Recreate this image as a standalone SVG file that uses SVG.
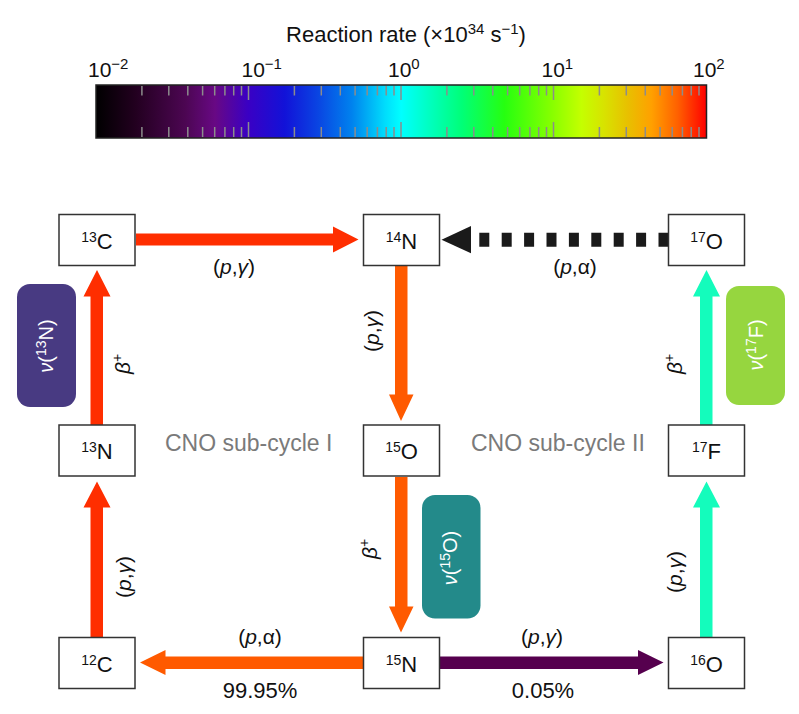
<svg xmlns="http://www.w3.org/2000/svg" width="799" height="714" viewBox="0 0 799 714">
<defs>
<linearGradient id="rate" x1="0" y1="0" x2="1" y2="0">
<stop offset="0" stop-color="#000000"/>
<stop offset="0.064" stop-color="#22001f"/>
<stop offset="0.146" stop-color="#4c0652"/>
<stop offset="0.195" stop-color="#680884"/>
<stop offset="0.249" stop-color="#3a00c4"/>
<stop offset="0.309" stop-color="#1212d8"/>
<stop offset="0.363" stop-color="#0a44e2"/>
<stop offset="0.419" stop-color="#0082ee"/>
<stop offset="0.473" stop-color="#00dcfc"/>
<stop offset="0.5" stop-color="#00ffff"/>
<stop offset="0.543" stop-color="#00ffc4"/>
<stop offset="0.599" stop-color="#00ff78"/>
<stop offset="0.669" stop-color="#26ff10"/>
<stop offset="0.746" stop-color="#86ff00"/>
<stop offset="0.795" stop-color="#c4ff00"/>
<stop offset="0.833" stop-color="#d8e200"/>
<stop offset="0.871" stop-color="#e8c000"/>
<stop offset="0.91" stop-color="#ffa000"/>
<stop offset="0.953" stop-color="#ff6000"/>
<stop offset="1" stop-color="#ff0000"/>
</linearGradient>
</defs>
<style>
text{font-family:"Liberation Sans",Arial,sans-serif;fill:#111}
.node rect{fill:#fff;stroke:#333;stroke-width:1.5}
.nl{font-size:22px;text-anchor:middle}
.lbl{font-size:21px;text-anchor:middle}
.pct{font-size:22px;text-anchor:middle}
.cyc{font-size:23px;fill:#7a7a7a}
.nu{font-size:20px;text-anchor:middle;fill:#fff}
.it{font-style:italic}
.tick{stroke:#8c8c8c;stroke-width:1.5;fill:none}
.red{fill:#ff2e00}
.orange{fill:#ff5a00}
.purple{fill:#56004e}
.aqua{fill:#14fcbc}
</style>
<rect width="799" height="714" fill="#fff"/>
<g id="colorbar">
<text x="406" y="42" style="font-size:22px" text-anchor="middle">Reaction rate (×10<tspan dy="-8" font-size="15">34</tspan><tspan dy="8"> s</tspan><tspan dy="-8" font-size="15">−1</tspan><tspan dy="8">)</tspan></text>
<text x="88" y="77" style="font-size:21px">10<tspan dy="-8" font-size="15">−2</tspan></text>
<text x="241.5" y="77" style="font-size:21px">10<tspan dy="-8" font-size="15">−1</tspan></text>
<text x="388" y="77" style="font-size:21px">10<tspan dy="-8" font-size="15">0</tspan></text>
<text x="541.5" y="77" style="font-size:21px">10<tspan dy="-8" font-size="15">1</tspan></text>
<text x="693" y="77" style="font-size:21px">10<tspan dy="-8" font-size="15">2</tspan></text>
<rect x="96" y="85" width="610.5" height="53" fill="url(#rate)"/>
<path class="tick" d="M141.9 86v9.5M168.8 86v9.5M187.8 86v9.5M202.6 86v9.5M214.7 86v9.5M224.9 86v9.5M233.7 86v9.5M241.5 86v9.5M294.4 86v9.5M321.3 86v9.5M340.3 86v9.5M355.1 86v9.5M367.2 86v9.5M377.4 86v9.5M386.2 86v9.5M394 86v9.5M446.9 86v9.5M473.8 86v9.5M492.8 86v9.5M507.6 86v9.5M519.7 86v9.5M529.9 86v9.5M538.7 86v9.5M546.5 86v9.5M599.4 86v9.5M626.3 86v9.5M645.3 86v9.5M660.1 86v9.5M672.2 86v9.5M682.4 86v9.5M691.2 86v9.5M699 86v9.5M248.5 86v14M401 86v14M553.5 86v14"/>
<path class="tick" d="M141.9 127v10M168.8 127v10M187.8 127v10M202.6 127v10M214.7 127v10M224.9 127v10M233.7 127v10M241.5 127v10M294.4 127v10M321.3 127v10M340.3 127v10M355.1 127v10M367.2 127v10M377.4 127v10M386.2 127v10M394 127v10M446.9 127v10M473.8 127v10M492.8 127v10M507.6 127v10M519.7 127v10M529.9 127v10M538.7 127v10M546.5 127v10M599.4 127v10M626.3 127v10M645.3 127v10M660.1 127v10M672.2 127v10M682.4 127v10M691.2 127v10M699 127v10M248.5 122v15M401 122v15M553.5 122v15"/>
<rect x="96" y="85" width="610.5" height="53" fill="none" stroke="#222" stroke-width="1.5"/>
</g>
<g id="connectors">
<path id="c13C-14N" class="red" d="M136 233.5H333V226.5L358.5 239.5L333 252.5V245.5H136Z"/>
<path id="c14N-15O" class="orange" d="M395 266V394.5H389L401 421L413.5 394.5H407.5V266Z"/>
<path id="c15O-15N" class="orange" d="M395 477V606.5H389L401 632.5L413.5 606.5H407.5V477Z"/>
<path id="c13N-13C" class="red" d="M90.5 425V296.5H83.5L97 270L110.5 296.5H103V425Z"/>
<path id="c12C-13N" class="red" d="M90.5 637.5V507.5H83.5L97 481.5L110.5 507.5H103V637.5Z"/>
<path id="c15N-12C" class="orange" d="M363.5 656.5H165.5V650L140 662.5L165.5 675V669H363.5Z"/>
<path id="c15N-16O" class="purple" d="M439 656.5H638V650L663.5 662.5L638 675V669H439Z"/>
<path id="c16O-17F" class="aqua" d="M700 637.5V507.5H693L706.5 481.5L720 507.5H712.5V637.5Z"/>
<path id="c17F-17O" class="aqua" d="M700 425V296.5H693L706.5 270L720 296.5H712.5V425Z"/>
<g id="c17O-14N">
<path d="M668.5 239.7H477" stroke="#1a1a1a" stroke-width="14" stroke-dasharray="10 12.4" fill="none"/>
<path d="M471 226L441.5 239.7L471 253.3Z" fill="#1a1a1a"/>
</g>
</g>
<g id="labels">
<text class="lbl" x="234" y="274">(<tspan class="it">p</tspan>,<tspan class="it">γ</tspan>)</text>
<text class="lbl" x="575" y="274">(<tspan class="it">p</tspan>,α)</text>
<text class="lbl" x="260" y="644">(<tspan class="it">p</tspan>,α)</text>
<text class="lbl" x="542" y="644">(<tspan class="it">p</tspan>,<tspan class="it">γ</tspan>)</text>
<text class="pct" x="260" y="698">99.95%</text>
<text class="pct" x="543" y="698">0.05%</text>
<text class="cyc" x="165" y="451">CNO sub-cycle I</text>
<text class="cyc" x="471" y="451">CNO sub-cycle II</text>
<text class="lbl" transform="translate(373 331) rotate(-90)" y="6">(<tspan class="it">p</tspan>,<tspan class="it">γ</tspan>)</text>
<text class="lbl" transform="translate(125 577) rotate(-90)" y="6">(<tspan class="it">p</tspan>,<tspan class="it">γ</tspan>)</text>
<text class="lbl" transform="translate(676 572) rotate(-90)" y="6">(<tspan class="it">p</tspan>,<tspan class="it">γ</tspan>)</text>
<text class="lbl" transform="translate(124 364) rotate(-90)" y="6"><tspan class="it">β</tspan><tspan dy="-8" font-size="14">+</tspan></text>
<text class="lbl" transform="translate(676 364) rotate(-90)" y="6"><tspan class="it">β</tspan><tspan dy="-8" font-size="14">+</tspan></text>
<text class="lbl" transform="translate(371 549) rotate(-90)" y="6"><tspan class="it">β</tspan><tspan dy="-8" font-size="14">+</tspan></text>
</g>
<g id="nu13N">
<rect x="17" y="284" width="59" height="123" rx="13" fill="#483a82"/>
<text class="nu" transform="translate(47 346) rotate(-90)" y="6"><tspan class="it">ν</tspan>(<tspan dy="-7" font-size="14">13</tspan><tspan dy="7">N)</tspan></text>
</g>
<g id="nu17F">
<rect x="726" y="286" width="59" height="119" rx="13" fill="#96d63f"/>
<text class="nu" transform="translate(757 345) rotate(-90)" y="6"><tspan class="it">ν</tspan>(<tspan dy="-7" font-size="14">17</tspan><tspan dy="7">F)</tspan></text>
</g>
<g id="nu15O">
<rect x="422" y="495" width="58.5" height="123.5" rx="13" fill="#238a8a"/>
<text class="nu" transform="translate(451 558) rotate(-90)" y="6"><tspan class="it">ν</tspan>(<tspan dy="-7" font-size="14">15</tspan><tspan dy="7">O)</tspan></text>
</g>
<g id="n13C" class="node"><rect x="59" y="214.5" width="76" height="51"/><text class="nl" x="97" y="248.5"><tspan dy="-7" font-size="14">13</tspan><tspan dy="7">C</tspan></text></g>
<g id="n14N" class="node"><rect x="363.5" y="214.5" width="76" height="51"/><text class="nl" x="401.5" y="248.5"><tspan dy="-7" font-size="14">14</tspan><tspan dy="7">N</tspan></text></g>
<g id="n17O" class="node"><rect x="668.5" y="214.5" width="76" height="51"/><text class="nl" x="706.5" y="248.5"><tspan dy="-7" font-size="14">17</tspan><tspan dy="7">O</tspan></text></g>
<g id="n13N" class="node"><rect x="59" y="425" width="76" height="51"/><text class="nl" x="97" y="459"><tspan dy="-7" font-size="14">13</tspan><tspan dy="7">N</tspan></text></g>
<g id="n15O" class="node"><rect x="363.5" y="425" width="76" height="51"/><text class="nl" x="401.5" y="459"><tspan dy="-7" font-size="14">15</tspan><tspan dy="7">O</tspan></text></g>
<g id="n17F" class="node"><rect x="668.5" y="425" width="76" height="51"/><text class="nl" x="706.5" y="459"><tspan dy="-7" font-size="14">17</tspan><tspan dy="7">F</tspan></text></g>
<g id="n12C" class="node"><rect x="59" y="637.5" width="76" height="51"/><text class="nl" x="97" y="672"><tspan dy="-7" font-size="14">12</tspan><tspan dy="7">C</tspan></text></g>
<g id="n15N" class="node"><rect x="363.5" y="637.5" width="76" height="51"/><text class="nl" x="401.5" y="672"><tspan dy="-7" font-size="14">15</tspan><tspan dy="7">N</tspan></text></g>
<g id="n16O" class="node"><rect x="668.5" y="637.5" width="76" height="51"/><text class="nl" x="706.5" y="672"><tspan dy="-7" font-size="14">16</tspan><tspan dy="7">O</tspan></text></g>
</svg>
